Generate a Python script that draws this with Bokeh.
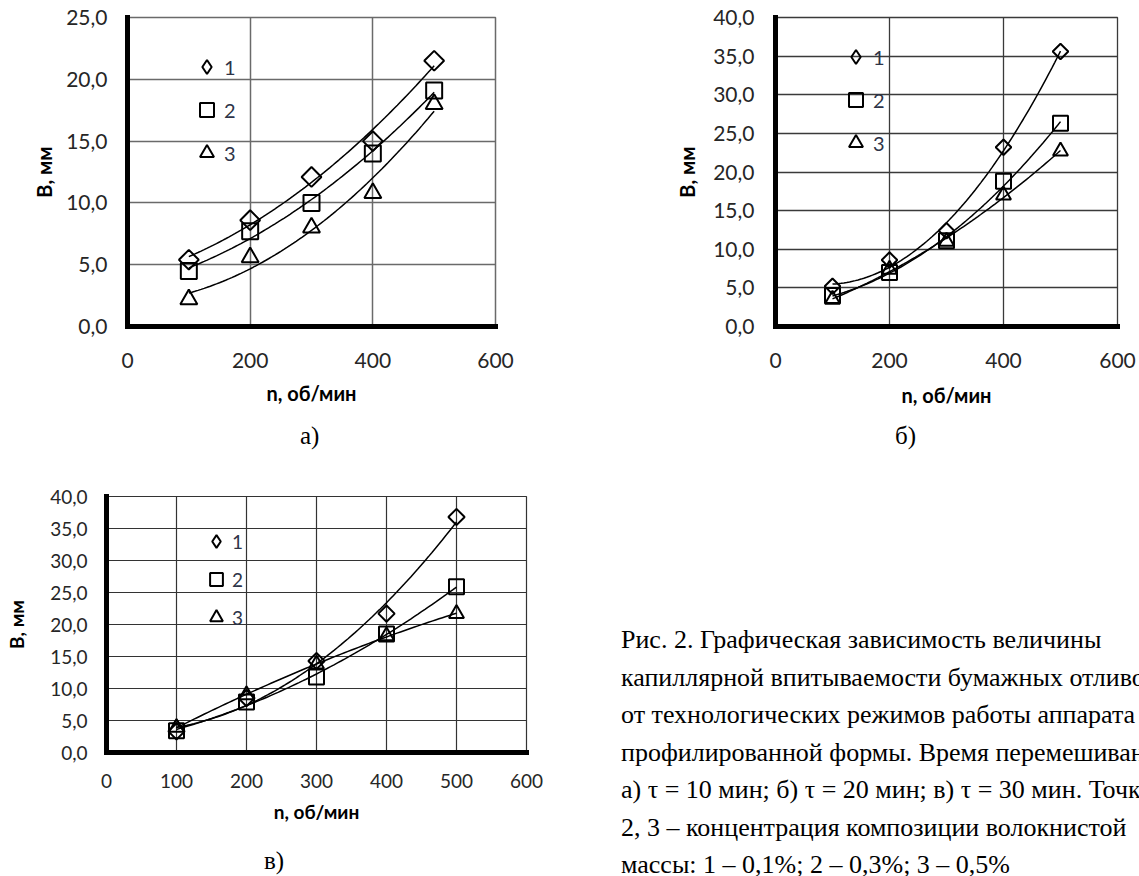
import numpy as np
from bokeh.plotting import figure
from bokeh.models import Range1d, FixedTicker, CustomJSTickFormatter, Legend, LegendItem, Div
from bokeh.layouts import column, row
from bokeh.embed import file_html
from bokeh.resources import INLINE

# ---------------- data ----------------
n_rpm = [100, 200, 300, 400, 500]

# chart а) tau = 10 min
a_s1 = [5.4, 8.6, 12.1, 15.0, 21.5]
a_s2 = [4.5, 7.7, 10.0, 14.0, 19.1]
a_s3 = [2.2, 5.6, 8.0, 10.8, 18.0]

# chart б) tau = 20 min
b_s1 = [5.2, 8.6, 12.4, 23.2, 35.6]
b_s2 = [4.0, 7.0, 11.1, 18.8, 26.3]
b_s3 = [3.5, 7.4, 11.0, 17.0, 22.7]

# chart в) tau = 30 min
c_s1 = [3.3, 8.5, 14.3, 21.7, 36.8]
c_s2 = [3.4, 7.9, 11.8, 18.5, 25.9]
c_s3 = [3.9, 9.0, 13.8, 18.2, 21.7]

series_labels = ["1", "2", "3"]
x_ticks_ab = [0, 200, 400, 600]
x_ticks_c = [0, 100, 200, 300, 400, 500, 600]
y_ticks_a = [0, 5, 10, 15, 20, 25]
y_ticks_bc = [0, 5, 10, 15, 20, 25, 30, 35, 40]
x_title = "n, об/мин"
y_title = "В, мм"
panel_labels = ["а)", "б)", "в)"]
caption_lines = [
    "Рис. 2. Графическая зависимость величины",
    "капиллярной впитываемости бумажных отливок",
    "от технологических режимов работы аппарата",
    "профилированной формы. Время перемешивания:",
    "а) τ = 10 мин; б) τ = 20 мин; в) τ = 30 мин. Точки 1,",
    "2, 3 – концентрация композиции волокнистой",
    "массы: 1 – 0,1%; 2 – 0,3%; 3 – 0,5%",
]

TICK_COLOR = "#262626"
LEG_COLOR = "#2e3448"
SANS = "Lato"
SERIF = "Liberation Serif"

# data markers: rotated square (diamond), square, triangle
MARKERS = [("square", np.pi / 4), ("square", 0.0), ("triangle", 0.0)]
LEGEND_MARKERS = ["diamond", "square", "triangle"]


def build(width, height, mb, ymax, xticks, yticks, series, msz, lsz, fs_tick, fs_title,
          xt_stand, yt_stand, xl_stand, yl_stand, leg_loc, leg_box, leg_sp, leg_fs,
          grid_color, grid_w):
    p = figure(width=width, height=height, x_range=Range1d(0, 600),
               y_range=Range1d(0, ymax), output_backend="svg",
               toolbar_location=None,
               min_border_left=mb[0], min_border_right=mb[1],
               min_border_top=mb[2], min_border_bottom=mb[3])
    p.background_fill_color = "white"
    p.border_fill_color = "white"
    p.outline_line_color = grid_color
    p.outline_line_width = grid_w

    p.xaxis.ticker = FixedTicker(ticks=xticks)
    p.yaxis.ticker = FixedTicker(ticks=yticks)
    p.yaxis.formatter = CustomJSTickFormatter(
        code="return tick.toFixed(1).replace('.', ',');")
    p.xaxis.axis_label = x_title
    p.yaxis.axis_label = y_title
    for ax in (p.xaxis[0], p.yaxis[0]):
        ax.axis_line_width = 5
        ax.axis_line_color = "black"
        ax.axis_line_cap = "square"
        ax.major_tick_line_color = None
        ax.minor_tick_line_color = None
        ax.major_tick_out = 0
        ax.major_tick_in = 0
        ax.major_label_text_font = SANS
        ax.major_label_text_font_size = fs_tick
        ax.major_label_text_color = TICK_COLOR
        ax.axis_label_text_font = SANS
        ax.axis_label_text_font_style = "bold"
        ax.axis_label_text_font_size = fs_title
        ax.axis_label_text_color = "black"
    p.xaxis.major_label_standoff = xt_stand
    p.yaxis.major_label_standoff = yt_stand
    p.xaxis.axis_label_standoff = xl_stand
    p.yaxis.axis_label_standoff = yl_stand

    p.xgrid.ticker = FixedTicker(ticks=xticks)
    p.ygrid.ticker = FixedTicker(ticks=yticks)
    p.grid.grid_line_color = grid_color
    p.grid.grid_line_width = grid_w

    items = []
    for vals, (mk, ang), sz, lab, lmk in zip(series, MARKERS, msz, series_labels,
                                             LEGEND_MARKERS):
        coeffs = np.polyfit(n_rpm, vals, 2)
        xs = np.linspace(n_rpm[0], n_rpm[-1], 81)
        p.line(xs, np.polyval(coeffs, xs), line_color="black", line_width=1.5)
        p.scatter(n_rpm, vals, marker=mk, angle=ang, size=sz,
                  fill_color=None, line_color="black", line_width=2)
        # legend-only glyph (a single NaN point, never drawn in the plot)
        rl = p.scatter(x=[np.nan], y=[np.nan], marker=lmk, size=lsz,
                       fill_color=None, line_color="black", line_width=2)
        items.append(LegendItem(label=lab, renderers=[rl]))

    leg = Legend(items=items, location=leg_loc, orientation="vertical",
                 glyph_width=leg_box, glyph_height=leg_box, label_height=leg_box,
                 spacing=leg_sp, padding=0, margin=0, label_standoff=0,
                 background_fill_alpha=0, border_line_alpha=0,
                 label_text_font=SANS, label_text_font_size=leg_fs,
                 label_text_color=LEG_COLOR, label_text_baseline="middle")
    p.add_layout(leg)
    return p


def label_div(text, width, height, left, top, size=25):
    html = ('<div style="margin:0;padding:0;padding-left:%dpx;padding-top:%dpx;'
            'font-family:\'Liberation Serif\';font-size:%dpx;line-height:%dpx;'
            'white-space:nowrap;color:black">%s</div>') % (left, top, size, size, text)
    return Div(text=html, width=width, height=height, margin=0,
               styles={"overflow": "hidden"})


pa = build(640, 410, (127, 145, 17, 84), 25, x_ticks_ab, y_ticks_a,
           [a_s1, a_s2, a_s3], [14, 16, 17], 14, "21px", "20px",
           26, 20, 10, 7, (62, 156), 35, 8, "20px", "#6a6a6a", 1.5)

pb = build(499, 410, (135, 22, 17, 84), 40, x_ticks_ab, y_ticks_bc,
           [b_s1, b_s2, b_s3], [11, 15, 15], 14, "21px", "20px",
           26, 21, 12, 11, (63, 166), 35, 8, "20px", "#3a3a3a", 1.3)

pc = build(560, 370, (106, 34, 26, 88), 40, x_ticks_c, y_ticks_bc,
           [c_s1, c_s2, c_s3], [11.5, 15, 15], 13, "19px", "19px",
           21, 19, 9, 19, (94, 119), 32, 6, "19px", "#333333", 1.2)

div_a = label_div(panel_labels[0], 640, 60, 300, 13)
div_b = label_div(panel_labels[1], 499, 60, 255, 13)
div_c = label_div(panel_labels[2], 560, 36, 264, 8)

cap_html = ('<div style="margin:0;padding:0;padding-left:61px;padding-top:151px;'
            'font-family:\'Liberation Serif\';font-size:26px;line-height:37.5px;'
            'letter-spacing:0px;white-space:nowrap;color:black">'
            + "<br>".join(caption_lines) + '</div>')
cap = Div(text=cap_html, width=579, height=406, margin=0,
          styles={"overflow": "hidden"})

layout = column(row(column(pa, div_a), column(pb, div_b)),
                row(column(pc, div_c), cap))

with open("out.html", "w") as f:
    f.write(file_html(layout, INLINE))
